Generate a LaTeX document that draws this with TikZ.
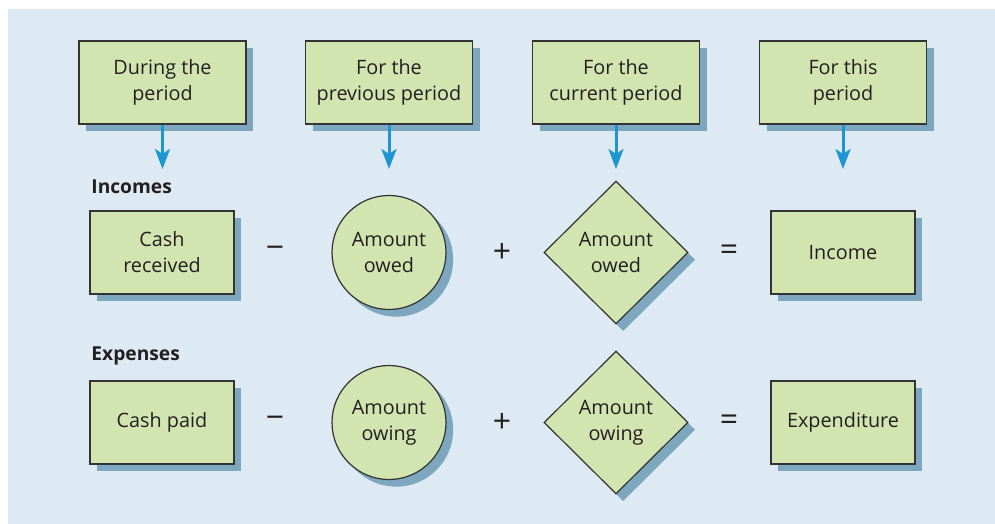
\documentclass[tikz,border=0pt]{standalone}
\usepackage{fontspec}
\setmainfont{Open Sans}
\usetikzlibrary{shapes.geometric,shadows,arrows.meta}
\definecolor{bgc}{HTML}{DDEAF3}
\definecolor{boxc}{HTML}{D2E4B0}
\definecolor{shc}{HTML}{7DA7BE}
\definecolor{edgec}{HTML}{333333}
\definecolor{arrc}{HTML}{1E96D2}
\definecolor{txtc}{HTML}{231F20}
\tikzset{
  base/.style={draw=edgec, line width=0.6pt, fill=boxc, text=txtc, align=center, inner sep=0pt,
    font=\fontsize{9.9}{13}\selectfont,
    drop shadow={shadow xshift=3.6pt, shadow yshift=-3.6pt, fill=shc, opacity=1}},
  topbox/.style={base, rectangle, minimum width=83.5pt, minimum height=41.5pt},
  rowbox/.style={base, rectangle, minimum width=72pt, minimum height=41.5pt},
  circ/.style={base, circle, minimum size=57pt},
  dia/.style={base, diamond, minimum width=72pt, minimum height=71.5pt},
  arr/.style={draw=arrc, line width=1.5pt, -{Stealth[length=10pt,width=7.5pt,inset=2.5pt]}},
  lab/.style={anchor=west, inner sep=0pt, text=txtc, font=\fontsize{9.6}{13}\selectfont\bfseries},
  op/.style={inner sep=0pt, text=txtc, font=\fontsize{16}{16}\selectfont}
}
\begin{document}
\begin{tikzpicture}[x=0.5pt, y=-0.5pt]
\useasboundingbox (0,0) rectangle (995,524);
\fill[bgc] (8,9) rectangle (995,524);
% top boxes
\node[topbox] (t1) at (162.5,82.5) {During the\\period};
\node[topbox] (t2) at (389,82.5) {For the\\previous period};
\node[topbox] (t3) at (616,82.5) {For the\\current period};
\node[topbox] (t4) at (843,82.5) {For this\\period};
\coordinate (e1) at (162.5,169);
\coordinate (e2) at (389,169);
\coordinate (e3) at (616,169);
\coordinate (e4) at (843,169);
\draw[arr] (t1.south) -- (e1);
\draw[arr] (t2.south) -- (e2);
\draw[arr] (t3.south) -- (e3);
\draw[arr] (t4.south) -- (e4);
% incomes row
\node[lab] (inc) at (91,187) {Incomes};
\node[rowbox] (cr) at (162,252.5) {Cash\\received};
\node[op] (m1) at (275,252.5) {−};
\node[circ] (ao1) at (389,252.5) {Amount\\owed};
\node[op] (p1) at (502,252.5) {+};
\node[dia] (ad1) at (616,252.5) {Amount\\owed};
\node[op] (q1) at (729,252.5) {=};
\node[rowbox] (inc2) at (843,252.5) {Income};
% expenses row
\node[lab] (exp) at (91,356) {Expenses};
\node[rowbox] (cp) at (162,422.5) {Cash paid};
\node[op] (m2) at (275,422.5) {−};
\node[circ] (ao2) at (389,422.5) {Amount\\owing};
\node[op] (p2) at (502,422.5) {+};
\node[dia] (ad2) at (616,422.5) {Amount\\owing};
\node[op] (q2) at (729,422.5) {=};
\node[rowbox] (ex) at (843,422.5) {Expenditure};
\end{tikzpicture}
\end{document}
